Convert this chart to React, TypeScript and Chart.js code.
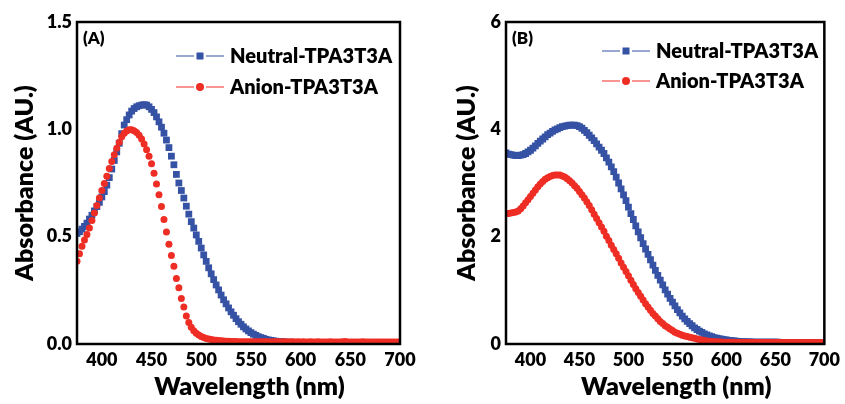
import React, { useEffect, useRef } from 'react';
import { Chart, registerables } from 'chart.js';
Chart.register(...registerables);

// wavelength grid (nm)
const wavelengths = [
  375, 377.5, 380, 382.5, 385, 387.5, 390, 392.5, 395, 397.5,
  400, 402.5, 405, 407.5, 410, 412.5, 415, 417.5, 420, 422.5,
  425, 427.5, 430, 432.5, 435, 437.5, 440, 442.5, 445, 447.5,
  450, 452.5, 455, 457.5, 460, 462.5, 465, 467.5, 470, 472.5,
  475, 477.5, 480, 482.5, 485, 487.5, 490, 492.5, 495, 497.5,
  500, 502.5, 505, 507.5, 510, 512.5, 515, 517.5, 520, 522.5,
  525, 527.5, 530, 532.5, 535, 537.5, 540, 542.5, 545, 547.5,
  550, 552.5, 555, 557.5, 560, 562.5, 565, 567.5, 570, 572.5,
  575, 577.5, 580, 582.5, 585, 587.5, 590, 592.5, 595, 597.5,
  600, 602.5, 605, 607.5, 610, 612.5, 615, 617.5, 620, 622.5,
  625, 627.5, 630, 632.5, 635, 637.5, 640, 642.5, 645, 647.5,
  650, 652.5, 655, 657.5, 660, 662.5, 665, 667.5, 670, 672.5,
  675, 677.5, 680, 682.5, 685, 687.5, 690, 692.5, 695, 697.5,
  700,
];

// Panel A
const neutralA = [
  0.515, 0.523, 0.535, 0.548, 0.563, 0.582, 0.600, 0.620, 0.640, 0.660,
  0.685, 0.710, 0.740, 0.775, 0.815, 0.855, 0.895, 0.935, 0.980, 1.020,
  1.045, 1.067, 1.085, 1.097, 1.105, 1.110, 1.113, 1.115, 1.113, 1.105,
  1.093, 1.078, 1.058, 1.035, 1.010, 0.982, 0.950, 0.915, 0.875, 0.835,
  0.790, 0.750, 0.715, 0.680, 0.642, 0.605, 0.570, 0.540, 0.508, 0.478,
  0.447, 0.415, 0.385, 0.355, 0.327, 0.300, 0.275, 0.252, 0.228, 0.206,
  0.187, 0.168, 0.150, 0.134, 0.118, 0.104, 0.092, 0.080, 0.070, 0.061,
  0.053, 0.046, 0.040, 0.034, 0.030, 0.026, 0.022, 0.019, 0.017, 0.015,
  0.013, 0.012, 0.011, 0.010, 0.009, 0.008, 0.008, 0.007, 0.007, 0.006,
  0.006, 0.006, 0.006, 0.005, 0.006, 0.005, 0.005, 0.006, 0.005, 0.005,
  0.005, 0.005, 0.006, 0.005, 0.005, 0.005, 0.004, 0.005, 0.005, 0.005,
  0.005, 0.004, 0.005, 0.005, 0.005, 0.004, 0.005, 0.004, 0.005, 0.004,
  0.004, 0.005, 0.004, 0.004, 0.005, 0.004, 0.004, 0.004, 0.005, 0.004,
  0.004,
];
const anionA = [
  0.385, 0.420, 0.455, 0.485, 0.510, 0.540, 0.575, 0.610, 0.645, 0.680,
  0.715, 0.748, 0.782, 0.818, 0.850, 0.882, 0.912, 0.940, 0.965, 0.982,
  0.992, 0.998, 0.998, 0.993, 0.985, 0.972, 0.955, 0.932, 0.905, 0.875,
  0.840, 0.795, 0.745, 0.695, 0.640, 0.580, 0.522, 0.465, 0.412, 0.362,
  0.305, 0.262, 0.212, 0.172, 0.130, 0.100, 0.078, 0.062, 0.050, 0.042,
  0.035, 0.030, 0.026, 0.023, 0.021, 0.019, 0.017, 0.016, 0.015, 0.014,
  0.013, 0.013, 0.012, 0.012, 0.012, 0.011, 0.011, 0.011, 0.011, 0.010,
  0.010, 0.011, 0.010, 0.010, 0.010, 0.011, 0.010, 0.010, 0.009, 0.010,
  0.010, 0.010, 0.009, 0.010, 0.010, 0.009, 0.010, 0.010, 0.009, 0.010,
  0.009, 0.010, 0.009, 0.009, 0.010, 0.009, 0.009, 0.010, 0.009, 0.009,
  0.009, 0.009, 0.010, 0.009, 0.009, 0.009, 0.009, 0.010, 0.012, 0.009,
  0.009, 0.009, 0.009, 0.009, 0.009, 0.010, 0.009, 0.009, 0.009, 0.009,
  0.009, 0.009, 0.009, 0.009, 0.009, 0.009, 0.009, 0.009, 0.009, 0.009,
  0.009,
];

// Panel B
const neutralB = [
  3.56, 3.54, 3.53, 3.52, 3.51, 3.51, 3.52, 3.53, 3.55, 3.58,
  3.61, 3.65, 3.69, 3.74, 3.78, 3.82, 3.86, 3.90, 3.93, 3.96,
  3.99, 4.01, 4.03, 4.05, 4.06, 4.07, 4.08, 4.08, 4.08, 4.07,
  4.05, 4.02, 3.98, 3.94, 3.89, 3.84, 3.79, 3.73, 3.67, 3.61,
  3.55, 3.47, 3.39, 3.30, 3.21, 3.11, 3.00, 2.89, 2.78, 2.67,
  2.55, 2.43, 2.32, 2.20, 2.09, 1.98, 1.87, 1.77, 1.67, 1.57,
  1.47, 1.37, 1.28, 1.19, 1.10, 1.01, 0.93, 0.85, 0.78, 0.71,
  0.64, 0.58, 0.52, 0.47, 0.42, 0.38, 0.34, 0.30, 0.27, 0.24,
  0.215, 0.19, 0.17, 0.15, 0.135, 0.12, 0.11, 0.10, 0.09, 0.08,
  0.075, 0.068, 0.062, 0.057, 0.052, 0.048, 0.045, 0.042, 0.040, 0.038,
  0.037, 0.036, 0.036, 0.035, 0.035, 0.034, 0.034, 0.034, 0.033, 0.033,
  0.033, 0.033, 0.032, 0.032, 0.032, 0.032, 0.031, 0.031, 0.031, 0.031,
  0.031, 0.030, 0.030, 0.030, 0.030, 0.030, 0.029, 0.029, 0.029, 0.029,
  0.029,
];
const anionB = [
  2.43, 2.43, 2.44, 2.45, 2.46, 2.48, 2.52, 2.57, 2.63, 2.69,
  2.75, 2.81, 2.87, 2.93, 2.98, 3.03, 3.07, 3.10, 3.12, 3.14,
  3.15, 3.15, 3.15, 3.13, 3.11, 3.08, 3.04, 3.00, 2.95, 2.90,
  2.84, 2.78, 2.72, 2.65, 2.58, 2.50, 2.42, 2.34, 2.26, 2.18,
  2.10, 2.01, 1.93, 1.84, 1.76, 1.68, 1.60, 1.51, 1.43, 1.35,
  1.27, 1.19, 1.11, 1.03, 0.96, 0.89, 0.82, 0.75, 0.69, 0.63,
  0.57, 0.52, 0.47, 0.42, 0.38, 0.34, 0.31, 0.28, 0.25, 0.22,
  0.20, 0.18, 0.165, 0.15, 0.138, 0.126, 0.115, 0.105, 0.095, 0.085,
  0.075, 0.066, 0.058, 0.052, 0.047, 0.043, 0.040, 0.037, 0.035, 0.033,
  0.032, 0.032, 0.031, 0.031, 0.030, 0.030, 0.030, 0.030, 0.029, 0.029,
  0.029, 0.029, 0.029, 0.028, 0.028, 0.028, 0.028, 0.028, 0.028, 0.028,
  0.028, 0.028, 0.028, 0.028, 0.027, 0.027, 0.027, 0.027, 0.027, 0.027,
  0.027, 0.027, 0.027, 0.027, 0.027, 0.027, 0.027, 0.027, 0.027, 0.027,
  0.027,
];

const xTicks = [400, 450, 500, 550, 600, 650, 700];
const yTicksA = [0, 0.5, 1.0, 1.5];
const yTicksB = [0, 2, 4, 6];
const seriesNames = ['Neutral-TPA3T3A', 'Anion-TPA3T3A'];
const panelLabels = ['(A)', '(B)'];
const xTitle = 'Wavelength (nm)';
const yTitle = 'Absorbance (AU.)';

const BLUE = '#3552a4';
const RED = '#ee2d25';
const FONT = 'Lato, "Open Sans", sans-serif';
const W = 800;

type PanelProps = {
  left: number;
  width: number;
  neutral: number[];
  anion: number[];
  yMax: number;
  yTicks: number[];
  decimals: number;
  label: string;
  yAxisWidth: number;
  padRight: number;
  yTitleX: number;
  legendLineOff: number;
  legendTextOff: number;
  legendRows: number[];
};

function Panel(p: PanelProps) {
  const ref = useRef<HTMLCanvasElement | null>(null);
  useEffect(() => {
    const canvas = ref.current!;
    const overlay = {
      id: 'overlay',
      afterDraw(chart: any) {
        const { ctx, chartArea: ca } = chart;
        ctx.save();
        // frame
        ctx.strokeStyle = '#000';
        ctx.lineWidth = 2.5;
        ctx.strokeRect(ca.left, ca.top, ca.right - ca.left, ca.bottom - ca.top);
        ctx.fillStyle = '#000';
        ctx.textBaseline = 'middle';
        // axis titles
        ctx.textAlign = 'center';
        ctx.font = `${W} 25px ${FONT}`;
        ctx.fillText(xTitle, (ca.left + ca.right) / 2 + 11, 387);
        ctx.save();
        ctx.translate(p.yTitleX, (ca.top + ca.bottom) / 2);
        ctx.rotate(-Math.PI / 2);
        ctx.fillText(yTitle, 0, 0);
        ctx.restore();
        // panel label
        ctx.textAlign = 'left';
        ctx.font = `${W} 17px ${FONT}`;
        ctx.fillText(p.label, ca.left + 6, 39);
        // legend
        const colors = [BLUE, RED];
        seriesNames.forEach((name, i) => {
          const y = p.legendRows[i];
          const x0 = ca.left + p.legendLineOff;
          const xm = x0 + 24;
          ctx.strokeStyle = colors[i];
          ctx.lineWidth = 1.2;
          ctx.beginPath();
          ctx.moveTo(x0, y);
          ctx.lineTo(xm - 6, y);
          ctx.moveTo(xm + 6, y);
          ctx.lineTo(x0 + 48, y);
          ctx.stroke();
          ctx.fillStyle = colors[i];
          if (i === 0) {
            ctx.fillRect(xm - 3.5, y - 3.5, 7, 7);
          } else {
            ctx.beginPath();
            ctx.arc(xm, y, 4, 0, Math.PI * 2);
            ctx.fill();
          }
          ctx.fillStyle = '#000';
          ctx.font = `${W} 20px ${FONT}`;
          ctx.fillText(name, ca.left + p.legendTextOff, y + 1);
        });
        ctx.restore();
      },
    };
    const chart = new Chart(canvas, {
      type: 'scatter',
      data: {
        datasets: [
          {
            label: seriesNames[0],
            data: wavelengths.map((x, i) => ({ x, y: p.neutral[i] })),
            pointStyle: 'rect',
            pointRadius: 4.8,
            backgroundColor: BLUE,
            borderWidth: 0,
            order: 1,
          },
          {
            label: seriesNames[1],
            data: wavelengths.map((x, i) => ({ x, y: p.anion[i] })),
            pointStyle: 'circle',
            pointRadius: 3.5,
            backgroundColor: RED,
            borderWidth: 0,
            order: 0,
          },
        ],
      },
      options: {
        responsive: false,
        animation: false,
        devicePixelRatio: 1,
        layout: { padding: { left: 0, right: p.padRight, top: 22, bottom: 0 } },
        plugins: { legend: { display: false }, tooltip: { enabled: false } },
        scales: {
          x: {
            type: 'linear',
            min: 375,
            max: 700,
            grid: { display: false, drawTicks: false },
            border: { display: false },
            afterBuildTicks: (s: any) => {
              s.ticks = xTicks.map((v) => ({ value: v }));
            },
            afterFit: (s: any) => {
              s.height = 60;
            },
            ticks: {
              color: '#000',
              font: { family: FONT, size: 18, weight: W },
              padding: 5,
              maxRotation: 0,
              autoSkip: false,
            },
          },
          y: {
            type: 'linear',
            min: 0,
            max: p.yMax,
            grid: { display: false, drawTicks: false },
            border: { display: false },
            afterBuildTicks: (s: any) => {
              s.ticks = p.yTicks.map((v) => ({ value: v }));
            },
            afterFit: (s: any) => {
              s.width = p.yAxisWidth;
            },
            ticks: {
              color: '#000',
              font: { family: FONT, size: 18, weight: W },
              padding: 5,
              callback: (v: any) => Number(v).toFixed(p.decimals),
            },
          },
        },
      },
      plugins: [overlay],
    } as any);
    return () => chart.destroy();
  }, []);
  return (
    <canvas
      ref={ref}
      width={p.width}
      height={404}
      style={{ position: 'absolute', left: p.left, top: 0, width: p.width, height: 404 }}
    />
  );
}

export default function App() {
  return (
    <div style={{ position: 'absolute', left: 0, top: 0, width: 845, height: 404, background: '#fff' }}>
      <Panel
        left={0}
        width={425}
        neutral={neutralA}
        anion={anionA}
        yMax={1.5}
        yTicks={yTicksA}
        decimals={1}
        label={panelLabels[0]}
        yAxisWidth={77}
        padRight={25}
        yTitleX={25}
        legendLineOff={99}
        legendTextOff={153}
        legendRows={[56, 87]}
      />
      <Panel
        left={425}
        width={420}
        neutral={neutralB}
        anion={anionB}
        yMax={6}
        yTicks={yTicksB}
        decimals={0}
        label={panelLabels[1]}
        yAxisWidth={81}
        padRight={17}
        yTitleX={42}
        legendLineOff={96}
        legendTextOff={150}
        legendRows={[51, 81]}
      />
    </div>
  );
}
